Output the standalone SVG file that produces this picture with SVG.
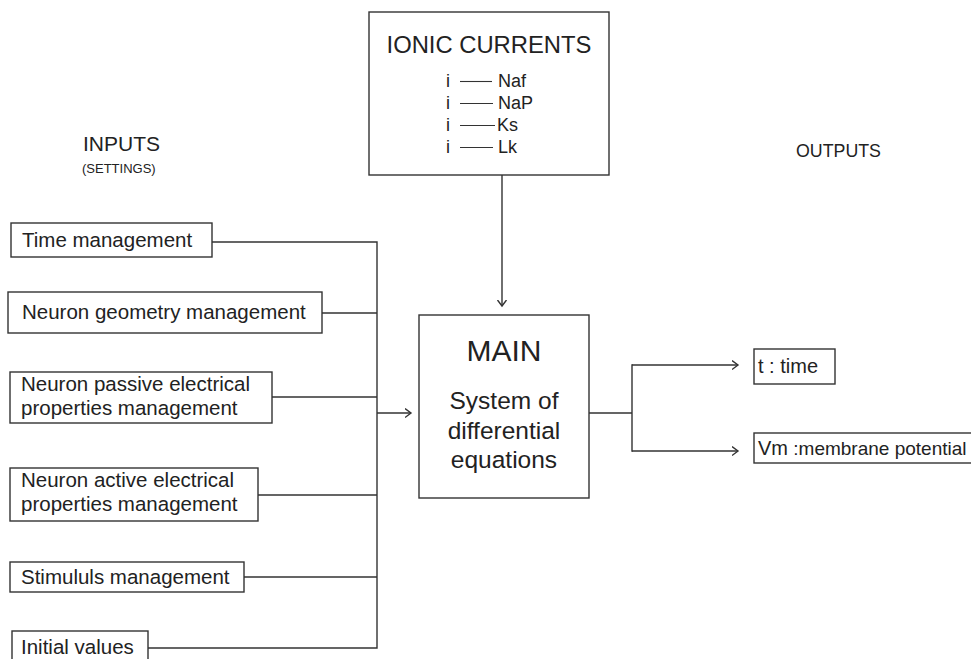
<svg xmlns="http://www.w3.org/2000/svg" width="971" height="659" viewBox="0 0 971 659">
  <style>
    .box { fill: #ffffff; stroke: #333333; stroke-width: 1.4; }
    .wire { fill: none; stroke: #333333; stroke-width: 1.4; }
    text { font-family: "Liberation Sans", Arial, sans-serif; fill: #222222; }
    .lbl { font-size: 20.5px; }
    .hd { font-size: 21px; }
  </style>
  <defs>
    <marker id="chev" markerUnits="userSpaceOnUse" markerWidth="10" markerHeight="12" refX="6.5" refY="5" orient="auto" viewBox="0 0 10 10">
      <path d="M0.5,0.5 L6.5,5 L0.5,9.5" fill="none" stroke="#333333" stroke-width="1.4"/>
    </marker>
  </defs>

  <!-- section headings -->
  <g id="headings">
    <text x="83" y="151" class="hd">INPUTS</text>
    <text x="82" y="173" font-size="13">(SETTINGS)</text>
    <text x="796" y="157" font-size="17.8">OUTPUTS</text>
  </g>

  <!-- ionic currents block -->
  <g id="ionic-currents">
    <rect x="369" y="12" width="240" height="163" class="box"/>
    <text x="489" y="53" font-size="23.8" text-anchor="middle">IONIC CURRENTS</text>
    <g font-size="18">
      <text x="446" y="87">i</text>
      <text x="446" y="109">i</text>
      <text x="446" y="131">i</text>
      <text x="446" y="153">i</text>
      <text x="498" y="87">Naf</text>
      <text x="498" y="109">NaP</text>
      <text x="497" y="131">Ks</text>
      <text x="498" y="153">Lk</text>
    </g>
    <g stroke="#333333" stroke-width="1.1">
      <line x1="460" y1="81.5" x2="492" y2="81.5"/>
      <line x1="460" y1="103.5" x2="493" y2="103.5"/>
      <line x1="460" y1="125.5" x2="495" y2="125.5"/>
      <line x1="460" y1="147.5" x2="493" y2="147.5"/>
    </g>
  </g>

  <!-- input boxes -->
  <g id="time-management">
    <rect x="11" y="223" width="201" height="34" class="box"/>
    <text x="22" y="247" class="lbl">Time management</text>
  </g>
  <g id="geometry-management">
    <rect x="8" y="292" width="314" height="41" class="box"/>
    <text x="22" y="319" class="lbl">Neuron geometry management</text>
  </g>
  <g id="passive-properties">
    <rect x="10" y="372" width="262" height="51" class="box"/>
    <text x="21" y="391" class="lbl">Neuron passive electrical</text>
    <text x="21" y="415" class="lbl">properties management</text>
  </g>
  <g id="active-properties">
    <rect x="10" y="468" width="248" height="53" class="box"/>
    <text x="21" y="487" class="lbl">Neuron active electrical</text>
    <text x="21" y="511" class="lbl">properties management</text>
  </g>
  <g id="stimulus-management">
    <rect x="10" y="562" width="234" height="30" class="box"/>
    <text x="21" y="584" class="lbl">Stimululs management</text>
  </g>
  <g id="initial-values">
    <rect x="12" y="631" width="136" height="40" class="box"/>
    <text x="21" y="654" class="lbl">Initial values</text>
  </g>

  <!-- main solver block -->
  <g id="main">
    <rect x="419" y="315" width="170" height="183" class="box"/>
    <text x="504" y="361" font-size="30" text-anchor="middle">MAIN</text>
    <text x="504" y="409" font-size="24.5" text-anchor="middle">System of</text>
    <text x="504" y="439" font-size="24.5" text-anchor="middle">differential</text>
    <text x="504" y="468" font-size="24.5" text-anchor="middle">equations</text>
  </g>

  <!-- output boxes -->
  <g id="out-time">
    <rect x="754" y="349" width="81" height="35" class="box"/>
    <text x="758" y="373" font-size="20">t : time</text>
  </g>
  <g id="out-vm">
    <rect x="754" y="433" width="230" height="30" class="box"/>
    <text x="758" y="455" font-size="19"><tspan font-size="20">Vm</tspan> :membrane potential</text>
  </g>

  <!-- connectors -->
  <g id="connectors">
    <path class="wire" d="M212,242 H377 M322,313 H377 M272,397 H377 M258,495 H377 M244,577 H377 M148,648 H377 M377,241.3 V648.7"/>
    <path class="wire" d="M377,413 H411" marker-end="url(#chev)"/>
    <path class="wire" d="M502,175 V306" marker-end="url(#chev)"/>
    <path class="wire" d="M589,413 H632 M632,364.3 V451.7"/>
    <path class="wire" d="M632,365 H738" marker-end="url(#chev)"/>
    <path class="wire" d="M632,451 H738" marker-end="url(#chev)"/>
  </g>
</svg>
